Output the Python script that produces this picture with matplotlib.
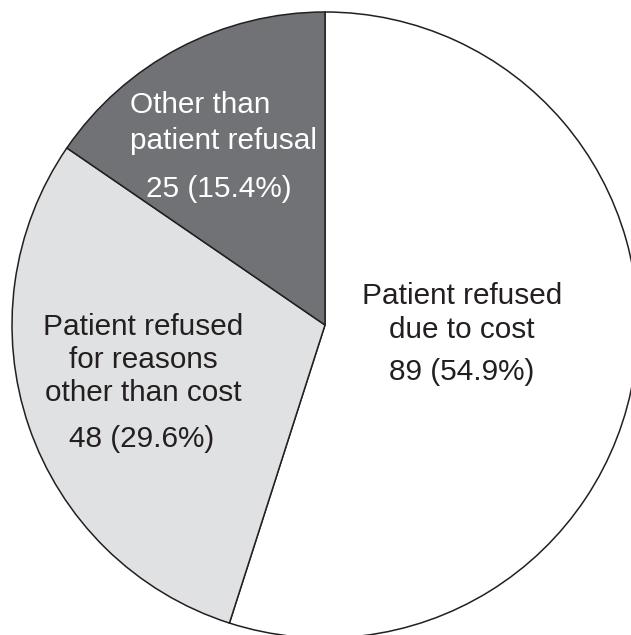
import matplotlib
matplotlib.use("Agg")
import matplotlib.pyplot as plt

# Data
categories = ["Patient refused\ndue to cost",
              "Patient refused\nfor reasons\nother than cost",
              "Other than\npatient refusal"]
counts = [89, 48, 25]
percents = [54.9, 29.6, 15.4]
slice_colors = ["#ffffff", "#e0e1e2", "#717275"]
text_colors = ["#231f20", "#231f20", "#ffffff"]

W, H = 631, 635
CX, CY, R = 325, 325, 313  # pie centre and radius in pixels

plt.rcParams['font.family'] = ['Liberation Sans', 'DejaVu Sans']

fig = plt.figure(figsize=(W / 100, H / 100), dpi=100)
ax = fig.add_axes([0, 0, 1, 1])
ax.pie(counts, colors=slice_colors, startangle=90, counterclock=False,
       radius=1, center=(0, 0),
       wedgeprops=dict(edgecolor="#231f20", linewidth=1.1))
ax.set_xlim(-CX / R, (W - CX) / R)
ax.set_ylim(-(H - CY) / R, CY / R)
ax.set_aspect('equal', adjustable='datalim')
ax.set_position([0, 0, 1, 1])
ax.axis('off')

FS = 21.4

def put(px, py, s, color, ha='center'):
    fig.text(px / W, 1 - py / H, s, ha=ha, va='baseline', fontsize=FS, color=color)

# Label layouts (pixel positions for each line)
layouts = [
    [(462, 304, 'center'), (462, 338, 'center'), (462, 380, 'center')],
    [(143, 335, 'center'), (143, 368, 'center'), (143, 401, 'center'), (142, 447, 'center')],
    [(130, 113, 'left'), (130, 149, 'left'), (219, 197, 'center')],
]

for cat, n, p, tc, lay in zip(categories, counts, percents, text_colors, layouts):
    lines = cat.split("\n") + [f"{n} ({p}%)"]
    for line, (px, py, ha) in zip(lines, lay):
        put(px, py, line, tc, ha)

fig.savefig("out.png", dpi=100, facecolor="white")
